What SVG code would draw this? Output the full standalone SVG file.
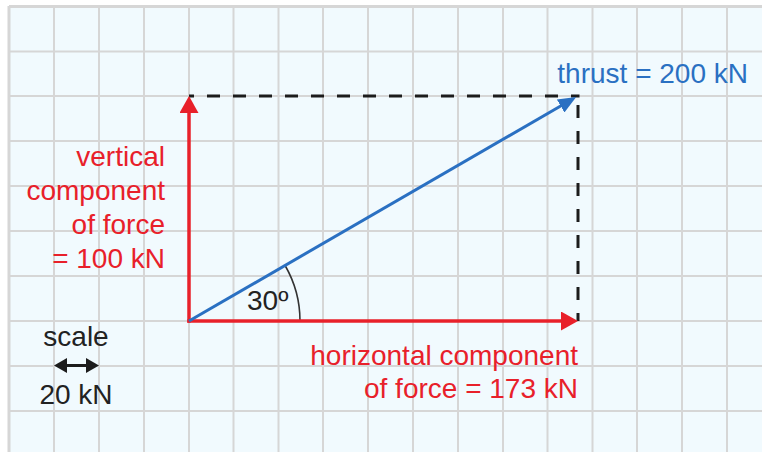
<svg xmlns="http://www.w3.org/2000/svg" width="762" height="452" viewBox="0 0 762 452">
<style>
  .grid line { stroke: #d6d6d6; stroke-width: 2; }
  .lbl { font-family: "Liberation Sans", Arial, sans-serif; font-size: 28px; }
  .red { fill: #e8202a; }
  .blue { fill: #2a70c2; }
  .blk { fill: #222222; }
  .vr { stroke: #e8202a; stroke-width: 3.5; fill: none; }
  .vb { stroke: #2a70c2; stroke-width: 3; fill: none; }
  .dash { stroke: #1c1c1c; stroke-width: 3; fill: none; stroke-dasharray: 13 13; }
</style>
<defs>
  <marker id="ahRed" markerUnits="userSpaceOnUse" viewBox="0 0 17 19" markerWidth="17" markerHeight="19" refX="9" refY="9.5" orient="auto">
    <path d="M0,0 L17,9.5 L0,19 Z" fill="#e8202a"/>
  </marker>
  <marker id="ahBlue" markerUnits="userSpaceOnUse" viewBox="0 0 18 15" markerWidth="18" markerHeight="15" refX="10" refY="7.5" orient="auto">
    <path d="M0,0 L18,7.5 L0,15 Z" fill="#2a70c2"/>
  </marker>
  <marker id="ahBlk" markerUnits="userSpaceOnUse" viewBox="0 0 13 15" markerWidth="13" markerHeight="15" refX="6" refY="7.5" orient="auto-start-reverse">
    <path d="M0,0 L13,7.5 L0,15 Z" fill="#1c1c1c"/>
  </marker>
</defs>
<rect x="0" y="0" width="762" height="452" fill="#ffffff"/>
<rect x="9" y="6" width="753" height="446" fill="#f1fafe"/>
<g id="grid" class="grid">
  <line x1="9" y1="6" x2="9" y2="452" style="stroke-width:3"/>
  <line x1="54" y1="6" x2="54" y2="452"/>
  <line x1="99" y1="6" x2="99" y2="452"/>
  <line x1="144" y1="6" x2="144" y2="452"/>
  <line x1="189" y1="6" x2="189" y2="452"/>
  <line x1="233.5" y1="6" x2="233.5" y2="452"/>
  <line x1="278.5" y1="6" x2="278.5" y2="452"/>
  <line x1="323" y1="6" x2="323" y2="452"/>
  <line x1="368" y1="6" x2="368" y2="452"/>
  <line x1="413" y1="6" x2="413" y2="452"/>
  <line x1="458" y1="6" x2="458" y2="452"/>
  <line x1="503" y1="6" x2="503" y2="452"/>
  <line x1="547.5" y1="6" x2="547.5" y2="452"/>
  <line x1="592.5" y1="6" x2="592.5" y2="452"/>
  <line x1="637" y1="6" x2="637" y2="452"/>
  <line x1="682" y1="6" x2="682" y2="452"/>
  <line x1="727" y1="6" x2="727" y2="452"/>
  <line x1="9" y1="6.5" x2="762" y2="6.5" style="stroke-width:3"/>
  <line x1="9" y1="51.5" x2="762" y2="51.5"/>
  <line x1="9" y1="96" x2="762" y2="96"/>
  <line x1="9" y1="141" x2="762" y2="141"/>
  <line x1="9" y1="186" x2="762" y2="186"/>
  <line x1="9" y1="231" x2="762" y2="231"/>
  <line x1="9" y1="276" x2="762" y2="276"/>
  <line x1="9" y1="321" x2="762" y2="321"/>
  <line x1="9" y1="366" x2="762" y2="366"/>
  <line x1="9" y1="411" x2="762" y2="411"/>
</g>
<g id="connectors">
  <path id="dash-top" class="dash" d="M189,96 H579.5" stroke-dashoffset="8"/>
  <path id="dash-right" class="dash" d="M578,321 V96" stroke-dashoffset="5"/>
  <path id="angle-arc" d="M300,321 A111,111 0 0 0 285.1,265.5" stroke="#333333" stroke-width="1.6" fill="none"/>
  <line id="vec-vertical" class="vr" x1="189" y1="322.7" x2="189" y2="104" marker-end="url(#ahRed)"/>
  <line id="vec-horizontal" class="vr" x1="187.3" y1="321" x2="570" y2="321" marker-end="url(#ahRed)"/>
  <line id="vec-thrust" class="vb" x1="189" y1="321" x2="569.3" y2="101" marker-end="url(#ahBlue)"/>
  <line id="scale-arrow" x1="61" y1="365.5" x2="92" y2="365.5" stroke="#1c1c1c" stroke-width="3" marker-start="url(#ahBlk)" marker-end="url(#ahBlk)"/>
</g>
<g id="thrust-label">
  <text class="lbl blue" x="748" y="83" text-anchor="end">thrust = 200 kN</text>
</g>
<g id="vertical-label" class="lbl red" text-anchor="end">
  <text x="165" y="166">vertical</text>
  <text x="165" y="200">component</text>
  <text x="165" y="234">of force</text>
  <text x="165" y="268">= 100 kN</text>
</g>
<g id="horizontal-label" class="lbl red" text-anchor="end">
  <text x="578" y="365">horizontal component</text>
  <text x="578" y="398">of force = 173 kN</text>
</g>
<g id="angle-label">
  <text class="lbl blk" x="247" y="310">30º</text>
</g>
<g id="scale" class="lbl blk" text-anchor="middle">
  <text x="76" y="346">scale</text>
  <text x="76" y="404">20 kN</text>
</g>
</svg>
